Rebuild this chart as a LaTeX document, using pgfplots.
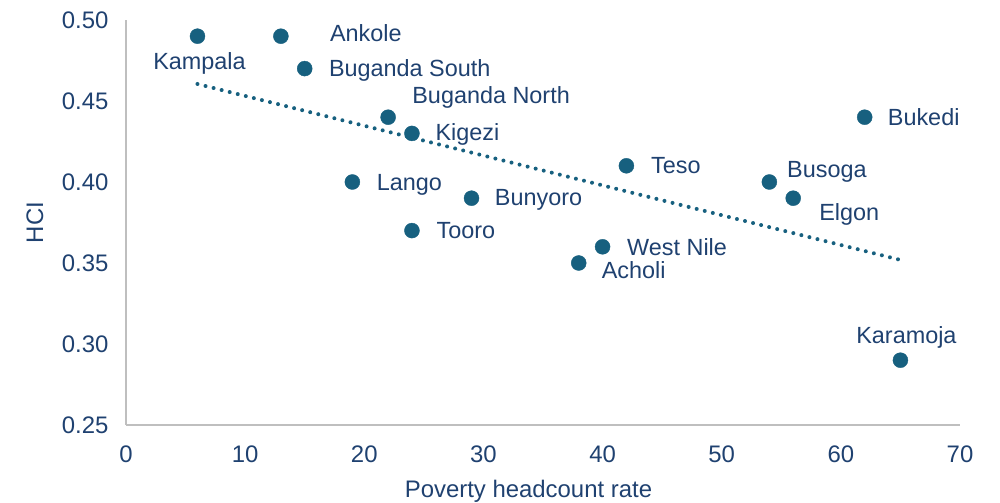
\documentclass[border=0pt]{standalone}
\usepackage{pgfplots}
\pgfplotsset{compat=1.18}
\usepackage{fontspec}
\setmainfont{Liberation Sans}
\definecolor{txt}{HTML}{1F4170}
\definecolor{mk}{HTML}{17607F}
\definecolor{axc}{HTML}{BFBFBF}
\begin{document}
\begin{tikzpicture}
\useasboundingbox (0bp,0bp) rectangle (1000bp,503bp);
\begin{axis}[
  at={(126bp,78bp)}, anchor=south west,
  scale only axis, width=834bp, height=405bp,
  xmin=0, xmax=70, ymin=0.25, ymax=0.50,
  xtick={0,10,...,70},
  ytick={0.25,0.30,0.35,0.40,0.45,0.50},
  axis x line*=bottom, axis y line*=left,
  axis line style={axc, line width=1.5bp},
  major tick length=0pt,
  clip=false,
  /pgf/number format/assume math mode=true,
  yticklabel style={/pgf/number format/fixed, /pgf/number format/fixed zerofill, /pgf/number format/precision=2, xshift=-14bp},
  xticklabel style={yshift=-17bp},
  tick label style={font=\fontsize{24}{28}\selectfont, text=txt},
  xlabel={Poverty headcount rate},
  ylabel={HCI},
  x label style={at={(axis description cs:0.4826,0)}, anchor=center, yshift=-66bp, font=\fontsize{24}{28}\selectfont, text=txt},
  y label style={at={(axis description cs:-0.1091,0.5)}, anchor=center, font=\fontsize{24}{28}\selectfont, text=txt},
]
\addplot[mk, line width=4bp, line cap=round, dash pattern=on 0pt off 8.3bp] coordinates {(6,0.4605) (65,0.3519)};
\addplot[only marks, mark=*, mark size=7.5bp, mark options={fill=mk, draw=mk},
  point meta=explicit symbolic,
  visualization depends on={value \thisrow{dx}\as\dxv},
  visualization depends on={value \thisrow{dy}\as\dyv},
  nodes near coords,
  every node near coord/.append style={anchor=base, xshift=\dxv*1bp, yshift=\dyv*1bp, font=\fontsize{23.5}{28}\selectfont, text=txt, inner sep=0pt}
] table[x=x, y=y, meta=label, col sep=comma] {
x,y,dx,dy,label
6,0.49,2,-33.5,Kampala
13,0.49,85,-5.5,Ankole
15,0.47,105,-7.5,Buganda South
22,0.44,103,13.5,Buganda North
24,0.43,55.5,-7.5,Kigezi
19,0.40,57,-8.5,Lango
29,0.39,67,-7.5,Bunyoro
24,0.37,54,-7.5,Tooro
42,0.41,49.5,-7.5,Teso
40,0.36,74.5,-8.5,West Nile
38,0.35,55,-15.5,Acholi
54,0.40,57.5,4.5,Busoga
56,0.39,56,-22.5,Elgon
62,0.44,59,-8.5,Bukedi
65,0.29,6,16.5,Karamoja
};
\end{axis}
\end{tikzpicture}
\end{document}
